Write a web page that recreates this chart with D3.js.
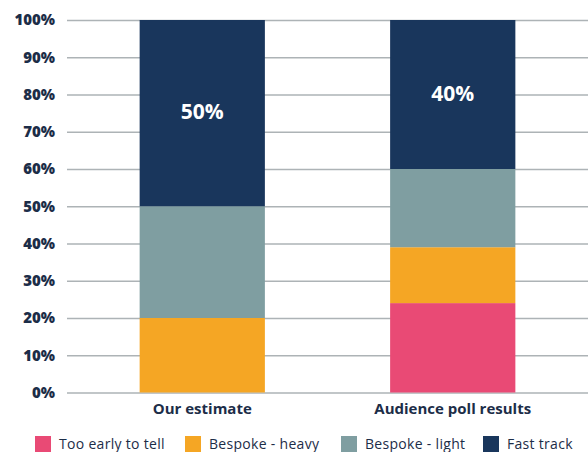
<!DOCTYPE html>
<html>
<head>
<meta charset="utf-8">
<script src="https://cdn.jsdelivr.net/npm/d3@7"></script>
<style>
  html, body { margin: 0; padding: 0; background: #ffffff; }
  svg { display: block; }
</style>
</head>
<body>
<svg id="chart" width="588" height="452"></svg>
<script>
// Scenario shares (percent) for each group, stacked bottom to top
const categories = ["Our estimate", "Audience poll results"];
const seriesNames = ["Too early to tell", "Bespoke - heavy", "Bespoke - light", "Fast track"];
const tooEarly = [0, 24];
const bespokeHeavy = [20, 15];
const bespokeLight = [30, 21];
const fastTrack = [50, 40];
const yTicks = [0, 10, 20, 30, 40, 50, 60, 70, 80, 90, 100];
const colors = ["#e94a75", "#f5a624", "#7f9ea1", "#19365c"];

const rows = categories.map((c, i) => ({
  category: c,
  "Too early to tell": tooEarly[i],
  "Bespoke - heavy": bespokeHeavy[i],
  "Bespoke - light": bespokeLight[i],
  "Fast track": fastTrack[i]
}));

const svg = d3.select("#chart");
const textColor = "#1c2d48";
const fontFamily = "'Open Sans', 'DejaVu Sans', sans-serif";

const x = d3.scaleBand()
  .domain(categories)
  .range([67, 588])
  .paddingInner(0.5)
  .paddingOuter(0.29);

const y = d3.scaleLinear()
  .domain([0, 100])
  .range([392.5, 20]);

// Horizontal gridlines with percent labels
const yAxis = svg.append("g")
  .attr("transform", "translate(67,0)")
  .call(d3.axisLeft(y)
    .tickValues(yTicks)
    .tickSize(-521)
    .tickPadding(12)
    .tickFormat(d => d + "%"));
yAxis.select(".domain").remove();
yAxis.selectAll(".tick line")
  .attr("stroke", "#adb3b6")
  .attr("stroke-width", 1.3);
yAxis.selectAll(".tick text")
  .attr("fill", textColor)
  .style("font-family", fontFamily)
  .style("font-weight", 800)
  .style("font-size", "15px");

// Stacked bars
const stack = d3.stack().keys(seriesNames);
const layers = stack(rows);

svg.append("g")
  .selectAll("g")
  .data(layers)
  .join("g")
  .attr("fill", (d, i) => colors[i])
  .selectAll("rect")
  .data(d => d)
  .join("rect")
  .attr("x", d => x(d.data.category))
  .attr("width", x.bandwidth())
  .attr("y", d => y(d[1]))
  .attr("height", d => y(d[0]) - y(d[1]));

// Value labels inside the Fast track segments
const fastLayer = layers[layers.length - 1];
svg.append("g")
  .selectAll("text")
  .data(fastLayer)
  .join("text")
  .attr("x", d => x(d.data.category) + x.bandwidth() / 2)
  .attr("y", d => (y(d[0]) + y(d[1])) / 2)
  .attr("dy", "0.3em")
  .attr("text-anchor", "middle")
  .attr("fill", "#ffffff")
  .style("font-family", fontFamily)
  .style("font-weight", 700)
  .style("font-size", "21px")
  .text(d => (d[1] - d[0]) + "%");

// Category labels
const xAxis = svg.append("g")
  .attr("transform", "translate(0,392.5)")
  .call(d3.axisBottom(x).tickSize(0).tickPadding(11));
xAxis.select(".domain").remove();
xAxis.selectAll(".tick text")
  .attr("fill", textColor)
  .style("font-family", fontFamily)
  .style("font-weight", 700)
  .style("font-size", "15px");

// Legend
const legendX = [35, 185, 341, 483];
const legend = svg.append("g")
  .selectAll("g")
  .data(seriesNames)
  .join("g")
  .attr("transform", (d, i) => `translate(${legendX[i]},436)`);
legend.append("rect")
  .attr("width", 16)
  .attr("height", 16)
  .attr("fill", (d, i) => colors[i]);
legend.append("text")
  .attr("x", 24)
  .attr("y", 8)
  .attr("dy", "0.36em")
  .attr("fill", textColor)
  .style("font-family", fontFamily)
  .style("font-weight", 400)
  .style("font-size", "14px")
  .style("letter-spacing", "0.3px")
  .text(d => d);
</script>
</body>
</html>
